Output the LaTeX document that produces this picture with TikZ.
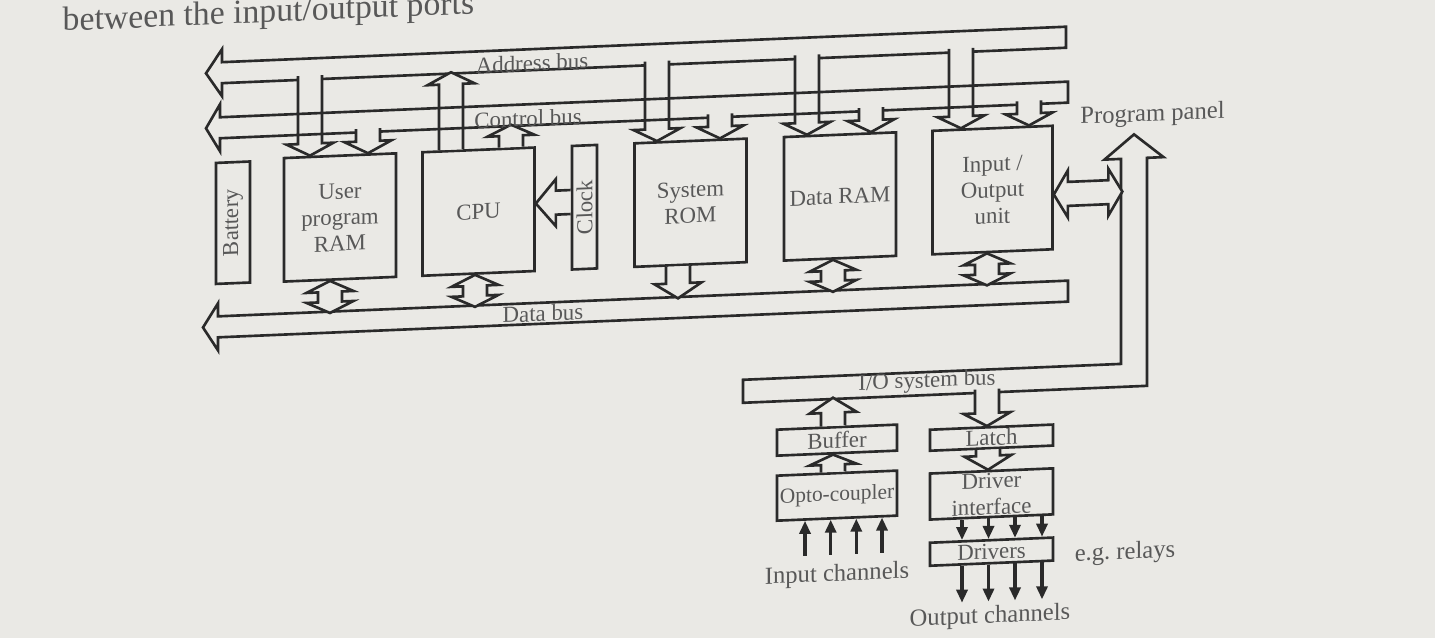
\documentclass[tikz,border=0pt]{standalone}
\usepackage{fontspec}
\setmainfont{Liberation Serif}
\usepackage{graphicx}
\usetikzlibrary{calc,arrows.meta}

\definecolor{Cpaper}{RGB}{234,233,229}
\definecolor{Cink}{RGB}{42,42,42}
\definecolor{Ctext}{RGB}{88,88,88}

\newcommand{\fshaft}{0.12cm}
\newcommand{\bshaft}{0.105cm}
\newcommand{\fhead}{0.235cm}

% block arrow, open at its base
\newcommand{\fatarrow}[3][0.13cm]{%
	\coordinate (fa) at ($(#3)!#1!(#2)$);
	\draw[fat] ($(#2)!\fshaft!90:(#3)$) -- ($(fa)!\fshaft!90:(#3)$)
	-- ($(fa)!\fhead!90:(#3)$) -- (#3) -- ($(fa)!\fhead!-90:(#3)$)
	-- ($(fa)!\fshaft!-90:(#3)$) -- ($(#2)!\fshaft!-90:(#3)$);}
% block arrow with two heads
\newcommand{\fatboth}[3][0.11cm]{%
	\coordinate (fa) at ($(#2)!#1!(#3)$);
	\coordinate (fb) at ($(#3)!#1!(#2)$);
	\draw[fat] (#2) -- ($(fa)!\fhead!90:(#3)$) -- ($(fa)!\fshaft!90:(#3)$)
	-- ($(fb)!\fshaft!-90:(#2)$) -- ($(fb)!\fhead!-90:(#2)$) -- (#3)
	-- ($(fb)!\fhead!90:(#2)$) -- ($(fb)!\fshaft!90:(#2)$)
	-- ($(fa)!\fshaft!-90:(#3)$) -- ($(fa)!\fhead!-90:(#3)$) -- cycle;}
% bus, closed at its far end
\newcommand{\fatbus}[3][0.15cm]{%
	\coordinate (fa) at ($(#3)!#1!(#2)$);
	\draw[bus] ($(#2)!\bshaft!90:(#3)$) -- ($(fa)!\bshaft!90:(#3)$)
	-- ($(fa)!\fhead!90:(#3)$) -- (#3) -- ($(fa)!\fhead!-90:(#3)$)
	-- ($(fa)!\bshaft!-90:(#3)$) -- ($(#2)!\bshaft!-90:(#3)$) -- cycle;}

\tikzset{
	fat/.style={draw=Cink, fill=Cpaper, line width=0.75pt, line join=miter},
	bus/.style={draw=Cink, line width=0.75pt, line join=miter},
	unit/.style={draw=Cink, line width=0.75pt, text=Ctext, inner sep=0pt,
		minimum width=1.12cm, minimum height=1.235cm, align=center,
		font=\fontsize{6.5}{7.4}\selectfont},
	busname/.style={text=Ctext, inner sep=0pt, font=\fontsize{6.5}{7.4}\selectfont},
	outname/.style={text=Ctext, inner sep=0pt, font=\fontsize{7}{8}\selectfont},
	chan/.style={draw=Cink, line width=0.9pt, -{Triangle[length=1.3mm,width=1.1mm]}}
}

\begin{document}
\begin{tikzpicture}
	\fill[Cpaper] (0,0.27) rectangle (14.35,-6.11);
	\useasboundingbox (0,0.27) rectangle (14.35,-6.11);
	\begin{scope}[yslant=0.042, transform shape]
		\node[anchor=base west, text=Ctext, inner sep=0pt, font=\fontsize{9.6}{11}\selectfont]
		(page) at (0.62,-0.065) {between the input/output ports};

		% units
		\node[unit, minimum width=0.34cm, minimum height=1.21cm] (battery) at (2.33,-2.055) {\rotatebox{90}{Battery}};
		\node[unit] (uram) at (3.40,-2.0475) {User\\program\\RAM};
		\node[unit] (cpu) at (4.785,-2.0475) {CPU};
		\node[unit, minimum width=0.25cm] (clock) at (5.845,-2.0475) {\rotatebox{90}{Clock}};
		\node[unit] (rom) at (6.905,-2.0475) {System\\ROM};
		\node[unit] (dram) at (8.40,-2.0475) {Data RAM};
		\node[unit, minimum width=1.2cm] (iou) at (9.925,-2.0475) {Input /\\Output\\unit};

		\node[unit, minimum width=1.2cm, minimum height=0.26cm] (buffer) at (8.37,-4.483) {Buffer};
		\node[unit, minimum width=1.2cm, minimum height=0.45cm, font=\fontsize{6.1}{7}\selectfont] (opto) at (8.37,-5.038) {Opto-coupler};
		\node[unit, minimum width=1.23cm, minimum height=0.21cm] (latch) at (9.915,-4.523) {Latch};
		\node[unit, minimum width=1.23cm, minimum height=0.46cm] (driver) at (9.915,-5.086) {Driver\\interface};
		\node[unit, minimum width=1.23cm, minimum height=0.23cm] (drivers) at (9.915,-5.663) {Drivers};

		% address bus
		\coordinate (aR) at (10.66,-0.55);
		\coordinate (aL) at (2.06,-0.55);
		\fatbus[0.16cm]{aR}{aL}
		\foreach \bx/\dx in {uram/-0.30,rom/-0.335,dram/-0.33,iou/-0.315}{
			\coordinate (t) at ($(\bx.north)+(\dx,0)$);
			\coordinate (b) at ($(t)+(0,0.80)$);
			\fatarrow[0.12cm]{b}{t}
		}
		\coordinate (c1) at ($(cpu.north)+(-0.275,0)$);
		\coordinate (c2) at ($(c1)+(0,0.775)$);
		\fatarrow[0.12cm]{c1}{c2}

		% control bus
		\coordinate (cR) at (10.68,-1.10);
		\coordinate (cL) at (2.06,-1.10);
		\fatbus[0.14cm]{cR}{cL}
		\foreach \bx/\dx in {uram/0.28,rom/0.295,dram/0.31,iou/0.365}{
			\coordinate (t) at ($(\bx.north)+(\dx,0)$);
			\coordinate (b) at ($(t)+(0,0.245)$);
			\fatarrow[0.12cm]{b}{t}
		}
		\coordinate (c3) at ($(cpu.north)+(0.325,0)$);
		\coordinate (c4) at ($(c3)+(0,0.225)$);
		\fatarrow[0.11cm]{c3}{c4}

		% data bus
		\coordinate (dR) at (10.68,-3.09);
		\coordinate (dL) at (2.03,-3.09);
		\fatbus{dR}{dL}
		\foreach \bx/\dx in {uram/-0.10,cpu/-0.035,dram/-0.07,iou/-0.055}{
			\coordinate (t) at ($(\bx.south)+(\dx,0)$);
			\coordinate (b) at ($(t)+(0,-0.32)$);
			\fatboth{t}{b}
		}
		\coordinate (r1) at ($(rom.south)+(-0.125,0)$);
		\coordinate (r2) at ($(r1)+(0,-0.32)$);
		\fatarrow[0.15cm]{r1}{r2}

		\coordinate (k1) at ($(clock.west)+(0,0.0575)$);
		\coordinate (k2) at ($(cpu.east)+(0,0.0575)$);
		\fatarrow[0.2cm]{k1}{k2}

		% I/O system bus and program panel
		\draw[bus] (7.43,-3.84) -- (11.21,-3.84) -- (11.21,-1.79) -- (11.045,-1.79)
		-- (11.34,-1.55) -- (11.635,-1.79) -- (11.47,-1.79) -- (11.47,-4.07)
		-- (7.43,-4.07) -- cycle;
		\coordinate (p1) at ($(iou.east)+(0,-0.07)$);
		\coordinate (p2) at ($(p1)+(0.685,0)$);
		\fatboth[0.14cm]{p1}{p2}

		\coordinate (l1) at ($(latch.north)+(-0.045,0)$);
		\coordinate (l0) at ($(l1)+(0,0.368)$);
		\fatarrow[0.13cm]{l0}{l1}
		\coordinate (u1) at ($(buffer.north)+(-0.04,0)$);
		\coordinate (u2) at ($(u1)+(0,0.283)$);
		\fatarrow[0.15cm]{u1}{u2}
		\coordinate (o1) at ($(opto.north)+(-0.04,0)$);
		\coordinate (o2) at ($(buffer.south)+(-0.04,0)$);
		\fatarrow[0.1cm]{o1}{o2}
		\coordinate (d1) at ($(latch.south)+(-0.035,0)$);
		\coordinate (d2) at ($(driver.north)+(-0.035,0)$);
		\fatarrow[0.14cm]{d1}{d2}

		% channels
		\foreach \dx in {-0.32,-0.063,0.193,0.45}
		\draw[chan] ($(opto.south)+(\dx,-0.35)$) -- ($(opto.south)+(\dx,0)$);
		\foreach \dx in {-0.295,-0.03,0.235,0.505}{
			\draw[chan] ($(driver.south)+(\dx,0)$) -- ($(drivers.north)+(\dx,0)$);
			\draw[chan] ($(drivers.south)+(\dx,0)$) -- ++(0,-0.37);
		}

		% labels
		\node[busname] (abus) at (5.32,-0.585) {Address bus};
		\node[busname] (cbus) at (5.28,-1.133) {Control bus};
		\node[busname] (dbus) at (5.43,-3.09) {Data bus};
		\node[busname] (iobus) at (9.27,-3.94) {I/O system bus};
		\node[outname] (panel) at (11.525,-1.365) {Program panel};
		\node[outname] (inch) at (8.37,-5.833) {Input channels};
		\node[outname] (outch) at (9.90,-6.316) {Output channels};
		\node[outname] (relays) at (11.25,-5.734) {e.g.\ relays};
	\end{scope}
\end{tikzpicture}
\end{document}
